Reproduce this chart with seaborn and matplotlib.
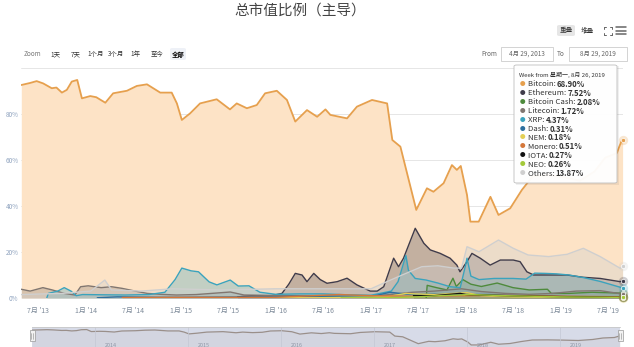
import matplotlib
matplotlib.use("Agg")
import numpy as np
import pandas as pd
import matplotlib.pyplot as plt
import matplotlib.dates as mdates
from matplotlib.patches import FancyBboxPatch, Rectangle
from matplotlib.lines import Line2D
from matplotlib.transforms import blended_transform_factory
import seaborn as sns

# ---------------- data ----------------
title_text = "总市值比例（主导）"

btc_dates = ["2013-04-28", "2013-06-01", "2013-06-26", "2013-07-21", "2013-08-23", "2013-09-10",
             "2013-10-01", "2013-10-20", "2013-11-08", "2013-11-29", "2013-12-17", "2014-01-18",
             "2014-02-10", "2014-03-17", "2014-04-16", "2014-06-08", "2014-07-16", "2014-08-24",
             "2014-10-14", "2014-11-27", "2014-12-17", "2015-01-05", "2015-02-06", "2015-03-16",
             "2015-05-19", "2015-07-09", "2015-08-04", "2015-09-12", "2015-10-20", "2015-11-21",
             "2016-01-05", "2016-02-13", "2016-03-16", "2016-04-30", "2016-06-08", "2016-07-10",
             "2016-07-29", "2016-10-01", "2016-11-08", "2017-01-05", "2017-03-04", "2017-03-24",
             "2017-04-24", "2017-06-08", "2017-06-24", "2017-08-04", "2017-08-29", "2017-10-07",
             "2017-11-08", "2017-11-27", "2017-12-12", "2018-01-05", "2018-01-18", "2018-02-19",
             "2018-04-05", "2018-05-06", "2018-06-20", "2018-08-04", "2018-09-15", "2018-11-15",
             "2019-01-15", "2019-03-15", "2019-05-10", "2019-06-20", "2019-08-04", "2019-08-19",
             "2019-08-26"]
btc_vals = [92.6, 93.5, 94.3, 93.3, 91.2, 91.5,
            89.3, 90.5, 94.1, 94.8, 86.8, 87.8,
            87.3, 84.9, 89.0, 90.1, 92.2, 92.9,
            89.3, 89.3, 84.6, 77.4, 80.3, 84.6,
            86.4, 82.0, 84.6, 82.5, 83.9, 89.0,
            90.1, 86.1, 76.7, 81.7, 78.8, 82.0,
            79.6, 78.1, 83.2, 86.1, 84.6, 68.7,
            65.8, 45.5, 38.3, 47.7, 46.2, 49.9,
            57.8, 55.7, 57.4, 44.8, 33.2, 33.2,
            44.0, 36.1, 39.0, 47.0, 53.0, 53.5,
            52.5, 51.0, 55.0, 61.0, 63.0, 67.5,
            68.90]

eth_dates = ["2015-08-07", "2015-10-01", "2015-12-15", "2016-01-25", "2016-02-20", "2016-03-16",
             "2016-04-11", "2016-04-30", "2016-05-26", "2016-06-20", "2016-07-16", "2016-08-24",
             "2016-10-01", "2016-11-08", "2016-12-29", "2017-01-25", "2017-02-19", "2017-03-29",
             "2017-04-17", "2017-05-06", "2017-06-20", "2017-07-23", "2017-08-17", "2017-09-24",
             "2017-11-01", "2017-11-27", "2017-12-09", "2018-01-05", "2018-01-24", "2018-02-25",
             "2018-04-04", "2018-05-13", "2018-07-02", "2018-07-28", "2018-08-23", "2018-09-18",
             "2018-10-14", "2019-01-24", "2019-03-28", "2019-06-01", "2019-08-17", "2019-08-26"]
eth_vals = [0.5, 1.0, 1.0, 2.0, 6.0, 10.7,
            10.0, 7.1, 10.7, 8.0, 6.4, 7.1,
            8.6, 5.7, 3.0, 3.0, 4.9, 17.3,
            13.6, 17.3, 30.3, 23.8, 20.9, 19.4,
            17.3, 14.3, 11.4, 15.8, 19.4, 17.3,
            14.3, 16.5, 16.5, 15.8, 11.4, 10.0,
            10.0, 10.0, 9.0, 8.5, 7.1, 7.52]

bch_dates = ["2017-08-01", "2017-08-05", "2017-09-10", "2017-10-20", "2017-11-12", "2017-11-25",
             "2017-12-20", "2018-01-20", "2018-03-01", "2018-05-01", "2018-07-01", "2018-09-01",
             "2018-11-10", "2018-11-25", "2019-02-01", "2019-05-01", "2019-07-01", "2019-08-26"]
bch_vals = [0.0, 5.5, 4.5, 3.5, 8.6, 5.0,
            8.0, 6.0, 5.0, 6.5, 4.5, 3.5,
            3.8, 2.0, 2.0, 2.5, 2.3, 2.08]

ltc_dates = ["2013-04-28", "2013-06-01", "2013-07-20", "2013-08-25", "2013-10-10", "2013-11-20",
             "2013-12-12", "2014-01-10", "2014-03-01", "2014-04-10", "2014-05-20", "2014-07-10",
             "2014-08-25", "2014-10-15", "2014-12-15", "2015-03-01", "2015-07-10", "2015-09-01",
             "2016-01-01", "2016-07-01", "2017-01-01", "2017-04-10", "2017-06-10", "2017-09-01",
             "2017-12-15", "2018-03-01", "2018-06-01", "2018-09-01", "2018-12-01", "2019-03-01",
             "2019-06-01", "2019-08-26"]
ltc_vals = [3.8, 3.0, 4.5, 3.5, 2.0, 1.3,
            4.9, 5.3, 4.5, 4.9, 4.2, 3.0,
            2.0, 1.6, 1.3, 1.5, 2.6, 1.3,
            1.1, 0.8, 0.7, 1.8, 2.5, 3.0,
            4.0, 2.8, 2.0, 1.6, 2.0, 3.0,
            3.2, 1.72]

xrp_dates = ["2013-08-04", "2013-08-10", "2013-09-15", "2013-10-10", "2013-11-05", "2013-11-25",
             "2013-12-20", "2014-03-01", "2014-06-01", "2014-09-01", "2014-11-01", "2014-12-10",
             "2015-01-05", "2015-02-10", "2015-03-10", "2015-04-20", "2015-05-20", "2015-07-10",
             "2015-08-10", "2015-09-20", "2015-11-01", "2016-01-01", "2016-04-01", "2016-07-01",
             "2016-10-01", "2017-01-01", "2017-03-20", "2017-04-15", "2017-05-15", "2017-05-25",
             "2017-06-20", "2017-08-01", "2017-09-15", "2017-11-01", "2017-12-10", "2017-12-30",
             "2018-01-05", "2018-01-20", "2018-02-20", "2018-04-20", "2018-07-01", "2018-08-20",
             "2018-09-22", "2018-11-01", "2018-12-15", "2019-02-01", "2019-04-01", "2019-06-01",
             "2019-08-26"]
xrp_vals = [0.0, 2.0, 3.0, 4.5, 3.0, 1.0,
            1.5, 1.4, 1.3, 1.5, 2.5, 8.0,
            13.0, 11.8, 11.4, 7.0, 5.7, 7.8,
            5.2, 5.3, 2.5, 1.6, 1.8, 1.8,
            1.4, 1.2, 3.0, 7.1, 18.5, 12.0,
            8.5, 7.8, 6.5, 4.9, 4.5, 14.0,
            17.3, 9.5, 8.0, 8.5, 8.5, 8.2,
            10.8, 10.7, 10.5, 10.0, 8.8, 7.2,
            4.37]

dash_dates = ["2014-02-14", "2014-05-01", "2014-10-01", "2015-01-01", "2015-06-01", "2016-01-01",
              "2016-06-01", "2017-01-01", "2017-03-15", "2017-06-01", "2017-09-01", "2017-12-20",
              "2018-04-01", "2018-09-01", "2019-01-01", "2019-04-01", "2019-08-26"]
dash_vals = [0.1, 0.5, 0.3, 0.3, 0.4, 0.5,
             0.8, 0.6, 2.5, 1.5, 1.7, 1.5,
             1.5, 1.0, 0.7, 0.6, 0.31]

nem_dates = ["2015-04-01", "2016-06-01", "2017-03-01", "2017-05-15", "2017-06-15", "2017-09-01",
             "2018-01-05", "2018-03-01", "2018-07-01", "2019-01-01", "2019-08-26"]
nem_vals = [0.05, 0.1, 0.5, 2.0, 1.8, 1.5,
            2.3, 1.0, 0.5, 0.4, 0.18]

xmr_dates = ["2014-05-21", "2015-01-01", "2016-01-01", "2016-09-01", "2017-01-01", "2017-06-01",
             "2018-01-01", "2018-06-01", "2019-01-01", "2019-08-26"]
xmr_vals = [0.2, 0.3, 0.3, 1.5, 1.0, 0.8,
            1.0, 1.2, 0.8, 0.51]

iota_dates = ["2017-06-13", "2017-09-01", "2017-12-10", "2018-01-01", "2018-06-01", "2019-01-01",
              "2019-08-26"]
iota_vals = [1.0, 1.0, 2.0, 1.5, 1.0, 0.6, 0.27]

neo_dates = ["2016-09-08", "2017-03-01", "2017-07-01", "2017-09-01", "2018-01-15", "2018-06-01",
             "2019-01-01", "2019-08-26"]
neo_vals = [0.05, 0.1, 0.5, 0.9, 1.5, 1.0, 0.5, 0.26]

oth_dates = ["2013-04-28", "2013-10-01", "2014-01-20", "2014-03-15", "2014-04-10", "2014-08-01",
             "2014-12-01", "2015-06-01", "2016-01-01", "2016-07-01", "2017-01-01", "2017-03-01",
             "2017-05-01", "2017-07-15", "2017-09-15", "2017-11-15", "2017-12-15", "2018-01-05",
             "2018-02-20", "2018-05-06", "2018-07-02", "2018-08-28", "2018-11-15", "2019-01-25",
             "2019-03-28", "2019-06-01", "2019-08-17", "2019-08-26"]
oth_vals = [1.5, 2.0, 3.0, 7.8, 3.5, 3.0,
            4.0, 3.5, 4.0, 4.0, 4.0, 7.0,
            10.0, 13.6, 14.0, 13.0, 13.0, 22.3,
            20.1, 25.2, 21.6, 18.7, 18.0, 19.0,
            21.6, 18.0, 12.9, 13.87]

series_names = ["Bitcoin", "Ethereum", "Bitcoin Cash", "Litecoin", "XRP", "Dash",
                "NEM", "Monero", "IOTA", "NEO", "Others"]
series_dates = [btc_dates, eth_dates, bch_dates, ltc_dates, xrp_dates, dash_dates,
                nem_dates, xmr_dates, iota_dates, neo_dates, oth_dates]
series_vals = [btc_vals, eth_vals, bch_vals, ltc_vals, xrp_vals, dash_vals,
               nem_vals, xmr_vals, iota_vals, neo_vals, oth_vals]
series_colors = ["#e6a04e", "#3f3b4a", "#4e8a3c", "#807670", "#3aa3bd", "#2d6f9e",
                 "#e3cf55", "#d4773a", "#111111", "#a3c93a", "#cfcfcf"]

xtick_dates = ["2013-07-01", "2014-01-01", "2014-07-01", "2015-01-01", "2015-07-01",
               "2016-01-01", "2016-07-01", "2017-01-01", "2017-07-01", "2018-01-01",
               "2018-07-01", "2019-01-01", "2019-07-01"]
xtick_labels = ["7月 '13", "1月 '14", "7月 '14", "1月 '15", "7月 '15", "1月 '16", "7月 '16",
                "1月 '17", "7月 '17", "1月 '18", "7月 '18", "1月 '19", "7月 '19"]
ytick_vals = [0, 20, 40, 60, 80, 100]
ytick_labels = ["0%", "20%", "40%", "60%", "80%", ""]

nav_years = ["2014", "2015", "2016", "2017", "2018", "2019"]

zoom_buttons = ["1天", "7天", "1个月", "3个月", "1年", "至今", "全部"]
from_text = "4月 29, 2013"
to_text = "8月 29, 2019"
tooltip_header = "Week from 星期一, 8月 26, 2019"

# ---------------- style ----------------
sns.set_theme(style="white")
plt.rcParams['font.family'] = ['Noto Sans CJK SC', 'DejaVu Sans']
plt.rcParams['axes.unicode_minus'] = False

W, H = 634, 347
def fx(x):
    return x / W
def fy(y):
    return 1 - y / H

fig = plt.figure(figsize=(W / 100, H / 100), dpi=100)
fig.patch.set_facecolor("white")

x0_px, x1_px = 21.3, 622.6
ax = fig.add_axes([fx(x0_px), fy(298), fx(x1_px - x0_px), (298 - 68) / H])
ax.set_facecolor("white")

start = pd.Timestamp("2013-04-28")
end = pd.Timestamp("2019-08-26")

for i, (name, d, v, c) in enumerate(zip(series_names, series_dates, series_vals, series_colors)):
    df = pd.DataFrame({"date": pd.to_datetime(d), "val": v})
    if name == "Bitcoin":
        ax.fill_between(df["date"], 0, df["val"], color="#fde3c6", lw=0, zorder=1)
        lw = 1.3
    else:
        a = 0.3 if name != "Others" else 0.35
        ax.fill_between(df["date"], 0, df["val"], color=c, alpha=a, lw=0, zorder=2 + i * 0.1)
        lw = 1.0
    sns.lineplot(data=df, x="date", y="val", ax=ax, color=c, linewidth=lw,
                 estimator=None, sort=False, zorder=3 + i * 0.1, legend=False)

# hover markers at the last point
for name, d, v, c in zip(series_names, series_dates, series_vals, series_colors):
    dd = pd.Timestamp(d[-1])
    ax.scatter([dd], [v[-1]], s=45, color=c, alpha=0.25, lw=0, zorder=8, clip_on=False)
    ax.scatter([dd], [v[-1]], s=9, color=c, edgecolor="white", lw=0.5, zorder=9, clip_on=False)

ax.set_xlim(start, end)
ax.set_ylim(0, 100)
ax.set_yticks(ytick_vals)
ax.set_yticklabels(ytick_labels)
ax.set_xticks(pd.to_datetime(xtick_dates))
ax.set_xticklabels(xtick_labels)
ax.tick_params(axis="x", length=0, pad=6.5, labelsize=5, labelcolor="#7d8a99")
ax.tick_params(axis="y", length=0, pad=2, labelsize=4.6, labelcolor="#8fa3bf")
ax.grid(axis="y", color="#e6e6e6", lw=0.7, zorder=0)
ax.grid(axis="x", visible=False)
ax.set_axisbelow(True)
ax.set_xlabel("")
ax.set_ylabel("")
for s in ax.spines.values():
    s.set_visible(False)

# ---------------- navigator ----------------
ax2 = fig.add_axes([fx(32), fy(350), fx(620 - 32), (350 - 327) / H])
ax2.set_facecolor("#d7dbe8")
df_btc = pd.DataFrame({"date": pd.to_datetime(btc_dates), "val": btc_vals})
ax2.fill_between(df_btc["date"], 0, df_btc["val"], color="#c9c6cc", alpha=0.25, lw=0)
sns.lineplot(data=df_btc, x="date", y="val", ax=ax2, color="#9a8f8a", linewidth=0.9,
             estimator=None, sort=False, legend=False)
ax2.set_xlim(start, end)
ax2.set_ylim(13, 105)
ax2.set_xticks([])
ax2.set_yticks([])
ax2.set_xlabel("")
ax2.set_ylabel("")
for s in ax2.spines.values():
    s.set_visible(False)
ax2.spines["top"].set_visible(True)
ax2.spines["top"].set_color("#c8c8c8")
ax2.spines["top"].set_linewidth(0.6)
tr = blended_transform_factory(ax2.transData, ax2.transAxes)
for yr in nav_years:
    t = pd.Timestamp(f"{yr}-01-01")
    ax2.axvline(t, color="#c4c8d4", lw=0.5)
    ax2.text(t + pd.Timedelta(days=40), 0.2, yr, transform=tr, fontsize=3.9,
             color="#8e95a5", ha="left", va="center")
# handles
for hx in (32, 620):
    fig.patches.append(Rectangle((fx(hx - 2.5), fy(341)), fx(5), 11 / H, transform=fig.transFigure,
                                 facecolor="#f2f2f2", edgecolor="#999999", lw=0.5, zorder=10))
    for dx in (-0.8, 0.8):
        fig.lines.append(Line2D([fx(hx + dx), fx(hx + dx)], [fy(338.5), fy(332.5)],
                                transform=fig.transFigure, color="#888888", lw=0.4, zorder=11))

# ---------------- title & toolbar ----------------
fig.text(fx(300), fy(11), title_text, fontsize=10.5, color="#444444", ha="center", va="center")

fig.patches.append(FancyBboxPatch((fx(557), fy(36)), fx(18), 11 / H, boxstyle="round,pad=0,rounding_size=0.004",
                                  transform=fig.transFigure, facecolor="#e6e6e6", edgecolor="none", zorder=5))
fig.text(fx(566), fy(30.5), "重叠", fontsize=4.8, color="#333333", ha="center", va="center", zorder=6)
fig.text(fx(587), fy(30.5), "堆叠", fontsize=4.8, color="#333333", ha="center", va="center", zorder=6)
# expand icon (four corners)
cx, cy, r, a = 607.5, 30.5, 4.0, 2.0
for sx in (-1, 1):
    for sy in (-1, 1):
        fig.lines.append(Line2D([fx(cx + sx * r), fx(cx + sx * r)], [fy(cy + sy * r), fy(cy + sy * (r - a))],
                                transform=fig.transFigure, color="#666666", lw=0.7))
        fig.lines.append(Line2D([fx(cx + sx * r), fx(cx + sx * (r - a))], [fy(cy + sy * r), fy(cy + sy * r)],
                                transform=fig.transFigure, color="#666666", lw=0.7))
# menu icon
for yy in (27, 30.5, 34):
    fig.lines.append(Line2D([fx(616), fx(626)], [fy(yy), fy(yy)], transform=fig.transFigure,
                            color="#666666", lw=1.1))

# zoom row
fig.text(fx(32), fy(54), "Zoom", fontsize=4.6, color="#777777", ha="center", va="center")
zoom_x = [55, 75.5, 96, 116, 135, 157, 178]
for zx, zt in zip(zoom_x, zoom_buttons):
    bold = zt == "全部"
    if bold:
        fig.patches.append(FancyBboxPatch((fx(zx - 8), fy(60)), fx(16), 12 / H,
                                          boxstyle="round,pad=0,rounding_size=0.004",
                                          transform=fig.transFigure, facecolor="#eef1f7",
                                          edgecolor="none", zorder=5))
    fig.text(fx(zx), fy(54), zt, fontsize=4.6, color="#000000" if bold else "#333333",
             fontweight="bold" if bold else "normal", ha="center", va="center", zorder=6)

fig.text(fx(489), fy(54), "From", fontsize=4.6, color="#666666", ha="center", va="center")
fig.patches.append(Rectangle((fx(501), fy(61)), fx(52), 14 / H, transform=fig.transFigure,
                             facecolor="white", edgecolor="#cccccc", lw=0.6))
fig.text(fx(527), fy(54), from_text, fontsize=4.6, color="#666666", ha="center", va="center")
fig.text(fx(561), fy(54), "To", fontsize=4.6, color="#666666", ha="center", va="center")
fig.patches.append(Rectangle((fx(569), fy(61)), fx(58), 14 / H, transform=fig.transFigure,
                             facecolor="white", edgecolor="#cccccc", lw=0.6))
fig.text(fx(598), fy(54), to_text, fontsize=4.6, color="#666666", ha="center", va="center")

# ---------------- tooltip ----------------
tx0, ty0, tx1, ty1 = 514, 65, 617, 183
fig.patches.append(Rectangle((fx(tx0 + 1.5), fy(ty1 + 1.5)), fx(tx1 - tx0), (ty1 - ty0) / H,
                             transform=fig.transFigure, facecolor="#000000", alpha=0.06,
                             edgecolor="none", zorder=19))
fig.patches.append(FancyBboxPatch((fx(tx0), fy(ty1)), fx(tx1 - tx0), (ty1 - ty0) / H,
                                  boxstyle="round,pad=0,rounding_size=0.004",
                                  transform=fig.transFigure, facecolor="white", alpha=0.96,
                                  edgecolor="#bbbbbb", lw=0.6, zorder=20))
fig.text(fx(519), fy(74.5), tooltip_header, fontsize=4.3, color="#333333", ha="left", va="center",
         zorder=21)
fig.canvas.draw()
renderer = fig.canvas.get_renderer()
for i, (name, v, c) in enumerate(zip(series_names, series_vals, series_colors)):
    yy = 84.5 + i * 8.9
    fig.text(fx(522.5), fy(yy), "●", fontsize=4.0, color=c, ha="center", va="center", zorder=21)
    t = fig.text(fx(527.5), fy(yy), f"{name}: ", fontsize=5.6, color="#333333", ha="left",
                 va="center", zorder=21)
    bb = t.get_window_extent(renderer)
    fig.text(bb.x1 / fig.bbox.width, fy(yy), f"{v[-1]:.2f}%", fontsize=5.6, color="#333333",
             fontweight="bold", ha="left", va="center", zorder=21)

fig.savefig("out.png", dpi=100, facecolor="white")
